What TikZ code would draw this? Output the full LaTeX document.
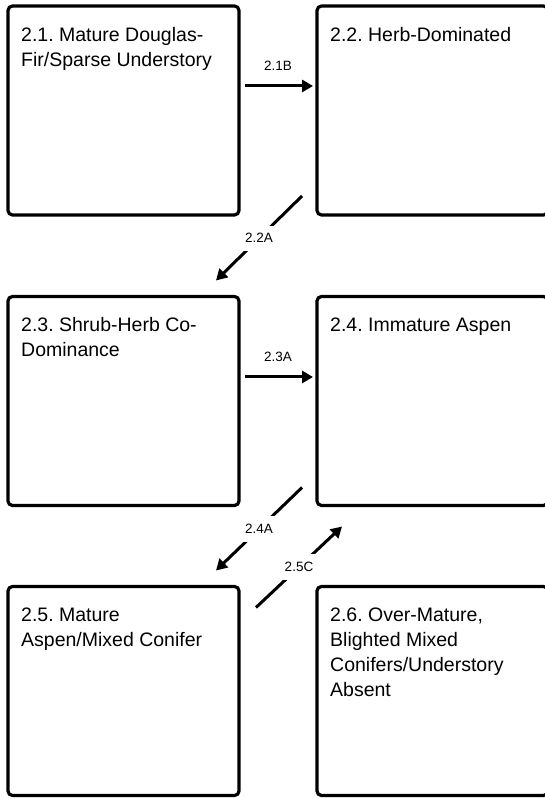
\documentclass[tikz,border=0pt]{standalone}
\usepackage{fontspec}
\setmainfont{Liberation Sans}
\usetikzlibrary{arrows.meta}
\frenchspacing

\tikzset{
  state/.style={draw=black, line width=3.2pt, rounded corners=4.5pt, minimum width=231pt, minimum height=209pt, inner sep=0pt, outer sep=0pt},
  stext/.style={anchor=north west, align=left, inner sep=0pt, font=\fontsize{19.5}{25}\selectfont},
  trans/.style={-{Triangle[length=11pt,width=12pt]}, line width=3pt},
  tlabel/.style={font=\fontsize{13.5}{16}\selectfont, inner sep=1pt},
  dlabel/.style={tlabel, fill=white, inner xsep=4pt, inner ysep=8pt},
}

\begin{document}
\begin{tikzpicture}[x=1pt, y=1pt]
    \useasboundingbox (0,0) rectangle (545,799);
    \clip (0,0) rectangle (545,799);
    % states
    \node[state] (S21) at (123.5,688.5) {};
    \node[state] (S22) at (432.5,688.5) {};
    \node[state] (S23) at (123.5,398) {};
    \node[state] (S24) at (432.5,398) {};
    \node[state] (S25) at (123.5,108) {};
    \node[state] (S26) at (432.5,108) {};
    \node[stext] (T21) at ([xshift=13pt,yshift=-21pt]S21.north west) {2.1. Mature Douglas-\\Fir/Sparse Understory};
    \node[stext] (T22) at ([xshift=13pt,yshift=-21pt]S22.north west) {2.2. Herb-Dominated};
    \node[stext] (T23) at ([xshift=13pt,yshift=-21pt]S23.north west) {2.3. Shrub-Herb Co-\\Dominance};
    \node[stext] (T24) at ([xshift=13pt,yshift=-21pt]S24.north west) {2.4. Immature Aspen};
    \node[stext] (T25) at ([xshift=13pt,yshift=-21pt]S25.north west) {2.5. Mature\\Aspen/Mixed Conifer};
    \node[stext] (T26) at ([xshift=13pt,yshift=-21pt]S26.north west) {2.6. Over-Mature,\\Blighted Mixed\\Conifers/Understory\\Absent};
    % transitions
    \draw[trans, shorten <=6pt, shorten >=4pt] ([yshift=24.5pt]S21.east) -- node[tlabel, above=13pt] (L21B) {2.1B} ([yshift=24.5pt]S22.west);
    \draw[trans, shorten <=6pt, shorten >=4pt] ([yshift=24pt]S23.east) -- node[tlabel, above=13pt] (L23A) {2.3A} ([yshift=24pt]S24.west);
    \draw[trans] ([shift={(-15pt,19pt)}]S22.south west) -- node[dlabel] (L22A) {2.2A} ([shift={(-23pt,16pt)}]S23.north east);
    \draw[trans] ([shift={(-15pt,18pt)}]S24.south west) -- node[dlabel] (L24A) {2.4A} ([shift={(-23pt,16pt)}]S25.north east);
    \draw[trans] ([shift={(17pt,-21pt)}]S25.north east) -- node[dlabel] (L25C) {2.5C} ([shift={(25pt,-21pt)}]S24.south west);
\end{tikzpicture}
\end{document}
